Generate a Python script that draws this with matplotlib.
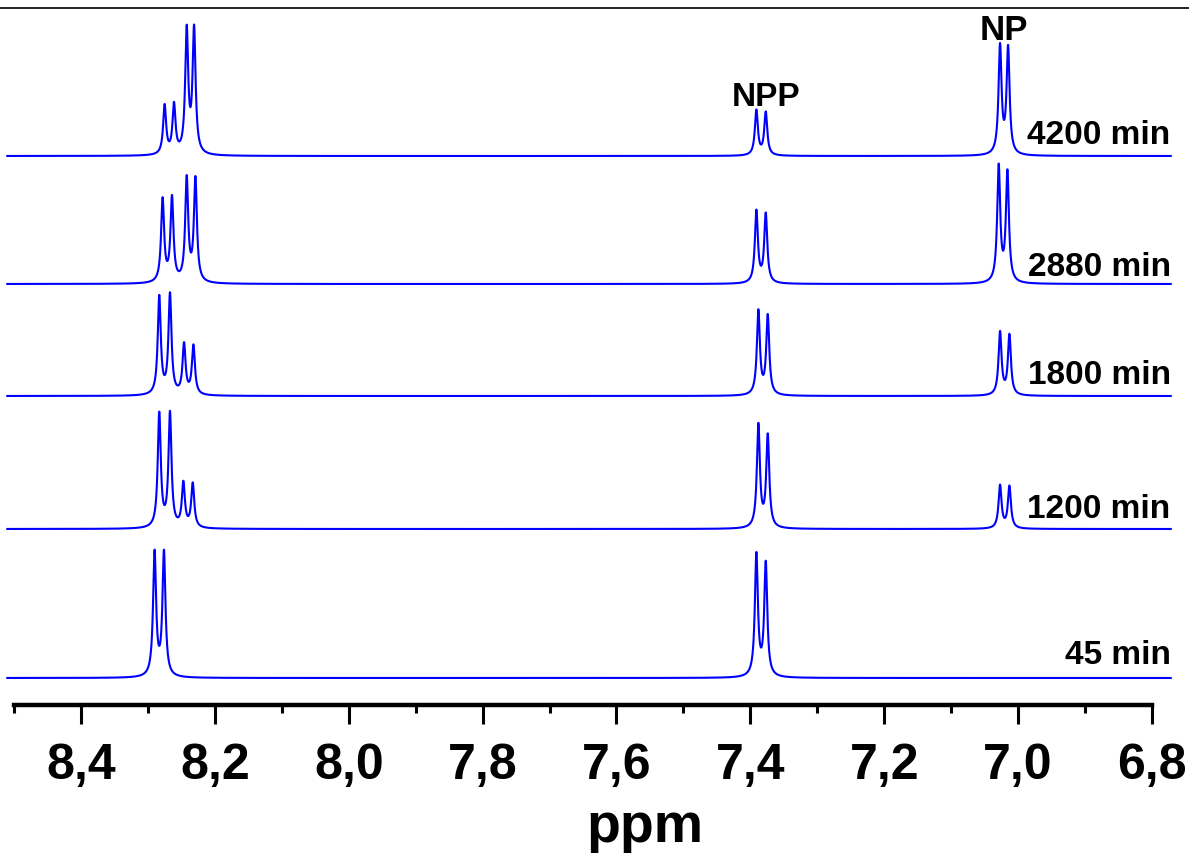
import numpy as np
import matplotlib.pyplot as plt
from matplotlib.lines import Line2D
from matplotlib.ticker import MultipleLocator, FuncFormatter

plt.rcParams['font.family'] = ['Liberation Sans', 'DejaVu Sans']
plt.rcParams['font.weight'] = 'bold'

times = ['45 min', '1200 min', '1800 min', '2880 min', '4200 min']

# peak positions (ppm) and heights for each spectrum
shifts_45 = [8.290, 8.276, 7.391, 7.377]
heights_45 = [124, 124, 122, 113]
shifts_1200 = [8.283, 8.267, 8.247, 8.233, 7.388, 7.374, 7.027, 7.013]
heights_1200 = [114, 114, 44, 44, 103, 92, 43, 42]
shifts_1800 = [8.283, 8.267, 8.246, 8.232, 7.388, 7.374, 7.027, 7.013]
heights_1800 = [98, 100, 50, 49, 84, 79, 63, 60]
shifts_2880 = [8.278, 8.264, 8.242, 8.229, 7.391, 7.377, 7.029, 7.016]
heights_2880 = [83, 84, 103, 103, 72, 69, 116, 110]
shifts_4200 = [8.275, 8.261, 8.242, 8.231, 7.391, 7.377, 7.027, 7.015]
heights_4200 = [49, 49, 123, 124, 45, 43, 108, 106]

all_shifts = [shifts_45, shifts_1200, shifts_1800, shifts_2880, shifts_4200]
all_heights = [heights_45, heights_1200, heights_1800, heights_2880, heights_4200]

# vertical stacking of the traces (plot units)
offsets = [27, 176, 309, 421, 549]
label_y = [50, 196, 330, 438, 570]

hwhm = 0.0027
ppm = np.linspace(8.51, 6.772, 9000)


def spectrum(shifts, heights):
    y = np.zeros_like(ppm)
    for s, h in zip(shifts, heights):
        y += h * hwhm ** 2 / ((ppm - s) ** 2 + hwhm ** 2)
    return y


fig = plt.figure(figsize=(11.89, 8.54), dpi=100)
ax = fig.add_axes([14 / 1189, 148 / 854, 1138 / 1189, 706 / 854])

for shifts, heights, off, name, ly in zip(all_shifts, all_heights, offsets, times, label_y):
    ax.plot(ppm, off + spectrum(shifts, heights), color='#0000ff', lw=1.5, clip_on=False)
    ax.text(6.772, ly, name, ha='right', va='center', fontsize=24, fontweight='bold')

ax.text(7.377, 608, 'NPP', ha='center', va='center', fontsize=24, fontweight='bold')
ax.text(7.021, 675, 'NP', ha='center', va='center', fontsize=25, fontweight='bold')

ax.set_xlim(8.5, 6.8)
ax.set_ylim(0, 706)
for side in ['top', 'left', 'right']:
    ax.spines[side].set_visible(False)
ax.spines['bottom'].set_linewidth(3.2)
ax.set_yticks([])
ax.xaxis.set_major_locator(MultipleLocator(0.2))
ax.xaxis.set_minor_locator(MultipleLocator(0.1))
ax.xaxis.set_major_formatter(FuncFormatter(lambda v, p: f'{v:.1f}'.replace('.', ',')))
ax.tick_params(axis='x', which='major', length=14, width=2.2, labelsize=36, pad=13)
ax.tick_params(axis='x', which='minor', length=6, width=2.2)
for lab in ax.get_xticklabels():
    lab.set_fontweight('bold')
ax.set_xlabel('ppm', fontsize=40, fontweight='bold', labelpad=9, x=0.5545)
ax.patch.set_alpha(0)

fig.add_artist(Line2D([0, 1], [1 - 9 / 854] * 2, transform=fig.transFigure, color='k', lw=1.2))

fig.savefig('out.png', dpi=100)
